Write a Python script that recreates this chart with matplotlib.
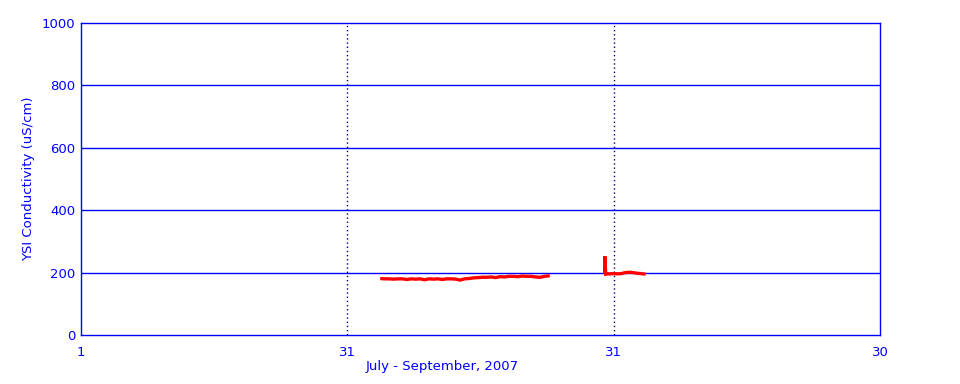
import matplotlib
matplotlib.use('Agg')
import matplotlib.pyplot as plt

# days since July 1, 2007 and conductivity (uS/cm)
days_a = [33.7, 34.2, 34.7, 35.2, 35.7, 36.2, 36.7, 37.2, 37.7, 38.2,
          38.7, 39.2, 39.7, 40.2, 40.7, 41.2, 41.7, 42.2, 42.7, 43.2,
          43.7, 44.2, 44.7, 45.2, 45.7, 46.2, 46.7, 47.2, 47.7, 48.2,
          48.7, 49.2, 49.7, 50.2, 50.7, 51.2, 51.7, 52.2, 52.8]
cond_a = [181, 180, 180, 179, 180, 180, 178, 180, 179, 180,
          177, 180, 179, 180, 178, 180, 180, 179, 176, 180,
          181, 183, 184, 185, 185, 186, 184, 187, 186, 188,
          188, 187, 189, 188, 188, 186, 185, 188, 190]

days_b = [59.0, 59.0, 59.1, 59.3, 59.6, 60.0, 60.5, 60.9, 61.3, 61.8,
          62.2, 62.6, 63.0, 63.3, 63.6]
cond_b = [195, 252, 195, 196, 196, 197, 196, 197, 200, 201,
          200, 198, 197, 196, 195]

xticks = [0, 30, 60, 90]
xticklabels = ['1', '31', '31', '30']
yticks = [0, 200, 400, 600, 800, 1000]

blue = '#0000ff'

fig = plt.figure(figsize=(9.6, 3.84), dpi=100)
ax = fig.add_axes([0.0844, 0.1276, 0.8323, 0.8125])

for y in yticks[1:-1]:
    ax.axhline(y, color=blue, linewidth=1.0, zorder=1)
for x in xticks[1:-1]:
    ax.axvline(x, color='#000080', linewidth=1.0, linestyle=(0, (1, 2)), zorder=1)

for d, c in [(days_a, cond_a), (days_b, cond_b)]:
    ax.plot(d, c, color='#ff0000', linewidth=2.4, solid_capstyle='butt',
            solid_joinstyle='miter', zorder=3)

ax.set_xlim(0, 90)
ax.set_ylim(0, 1000)
ax.set_xticks(xticks)
ax.set_xticklabels(xticklabels)
ax.set_yticks(yticks)
ax.tick_params(length=0, colors=blue, labelsize=9.5)
ax.tick_params(axis='x', pad=8)
ax.tick_params(axis='y', pad=4)
for s in ax.spines.values():
    s.set_color(blue)
    s.set_linewidth(1.0)

ax.set_ylabel('YSI Conductivity (uS/cm)', color=blue, fontsize=9.5)
ax.yaxis.set_label_coords(-0.058, 0.5)
ax.set_xlabel('July - September, 2007', color=blue, fontsize=9.5)
ax.xaxis.set_label_coords(0.452, -0.08)

fig.savefig('out.png', dpi=100)
